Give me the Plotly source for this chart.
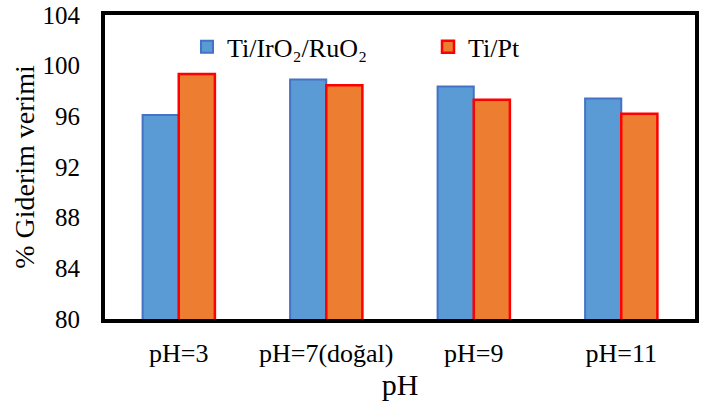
import plotly.graph_objects as go

categories = ["pH=3", "pH=7(doğal)", "pH=9", "pH=11"]
ti_iro2_ruo2 = [96.1, 98.9, 98.35, 97.4]
ti_pt = [99.35, 98.45, 97.3, 96.2]
y_ticks = [80, 84, 88, 92, 96, 100, 104]

fig = go.Figure()
fig.add_trace(go.Bar(
    x=categories, y=ti_iro2_ruo2, name="Ti/IrO₂/RuO₂",
    marker=dict(color="#5B9BD5", line=dict(color="#4472C4", width=2)),
))
fig.add_trace(go.Bar(
    x=categories, y=ti_pt, name="Ti/Pt",
    marker=dict(color="#ED7D31", line=dict(color="#FF0000", width=2.5)),
))

font_family = "Liberation Serif"
fig.update_layout(
    width=709, height=410,
    margin=dict(l=105, r=14, t=15, b=91, autoexpand=False),
    paper_bgcolor="white", plot_bgcolor="white",
    barmode="group", bargap=0.51, bargroupgap=0,
    font=dict(family=font_family, color="black", size=24),
    legend=dict(
        orientation="h", x=0.139, y=0.895, xanchor="left", yanchor="middle",
        font=dict(size=26, family=font_family), entrywidth=196, entrywidthmode="pixels",
        bgcolor="rgba(0,0,0,0)",
    ),
    xaxis=dict(
        showline=True, linecolor="black", linewidth=4, mirror=True, automargin=False,
        ticks="", tickfont=dict(size=26, family=font_family), ticklabelstandoff=8,
        title=dict(text="pH", font=dict(size=30, family=font_family), standoff=8),
    ),
    yaxis=dict(
        range=[80, 104], tickvals=y_ticks, showgrid=False, automargin=False,
        showline=True, linecolor="black", linewidth=4, mirror=True,
        ticks="", tickfont=dict(size=25, family=font_family), zeroline=False,
        ticklabelstandoff=16,
        title=dict(text="% Giderim verimi", font=dict(size=28, family=font_family), standoff=1),
    ),
)
fig.write_html("out.html")
